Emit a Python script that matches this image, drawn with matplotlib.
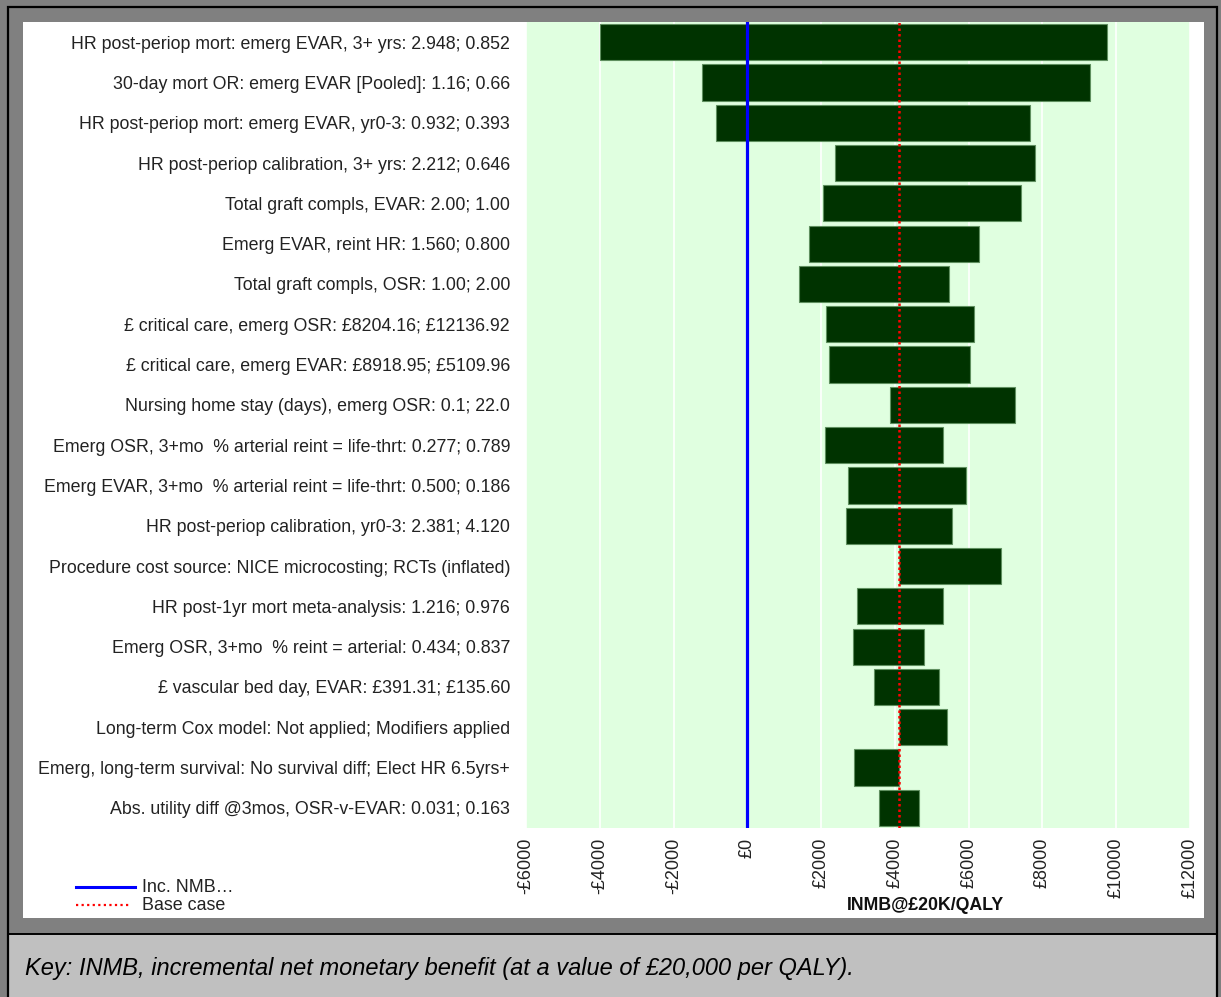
import numpy as np
import matplotlib.pyplot as plt
from matplotlib.patches import Rectangle
from matplotlib.lines import Line2D

plt.rcParams['font.family'] = ['Liberation Sans', 'DejaVu Sans']

# tornado data (INMB at £20K/QALY), top row first
labels = [
    "HR post-periop mort: emerg EVAR, 3+ yrs: 2.948; 0.852",
    "30-day mort OR: emerg EVAR [Pooled]: 1.16; 0.66",
    "HR post-periop mort: emerg EVAR, yr0-3: 0.932; 0.393",
    "HR post-periop calibration, 3+ yrs: 2.212; 0.646",
    "Total graft compls, EVAR: 2.00; 1.00",
    "Emerg EVAR, reint HR: 1.560; 0.800",
    "Total graft compls, OSR: 1.00; 2.00",
    "£ critical care, emerg OSR: £8204.16; £12136.92",
    "£ critical care, emerg EVAR: £8918.95; £5109.96",
    "Nursing home stay (days), emerg OSR: 0.1; 22.0",
    "Emerg OSR, 3+mo  % arterial reint = life-thrt: 0.277; 0.789",
    "Emerg EVAR, 3+mo  % arterial reint = life-thrt: 0.500; 0.186",
    "HR post-periop calibration, yr0-3: 2.381; 4.120",
    "Procedure cost source: NICE microcosting; RCTs (inflated)",
    "HR post-1yr mort meta-analysis: 1.216; 0.976",
    "Emerg OSR, 3+mo  % reint = arterial: 0.434; 0.837",
    "£ vascular bed day, EVAR: £391.31; £135.60",
    "Long-term Cox model: Not applied; Modifiers applied",
    "Emerg, long-term survival: No survival diff; Elect HR 6.5yrs+",
    "Abs. utility diff @3mos, OSR-v-EVAR: 0.031; 0.163",
]
base_case = 4120
low = [-3985, -1235, -860, 2365, 2040, 1660, 1390, 2130, 2220, 3865,
       2095, 2720, 2665, 4120, 2980, 2870, 3440, 4120, 2900, 3575]
high = [9745, 9295, 7660, 7805, 7415, 6280, 5480, 6135, 6045, 7245,
        5305, 5925, 5535, 6885, 5310, 4795, 5205, 5420, 4120, 4660]
xticks = [-6000, -4000, -2000, 0, 2000, 4000, 6000, 8000, 10000, 12000]
xticklabels = ["-£6000", "-£4000", "-£2000", "£0", "£2000", "£4000",
               "£6000", "£8000", "£10000", "£12000"]

W, H = 1221, 997


def fx(x):
    return x / W


def fy(y):
    return 1 - y / H


fig = plt.figure(figsize=(W / 100, H / 100), dpi=100)
fig.patch.set_facecolor('#808080')

# frame: white chart panel, grey key box, black outline
fig.add_artist(Rectangle((fx(23), fy(918)), (1204 - 23) / W, (918 - 22) / H,
                         transform=fig.transFigure, facecolor='white',
                         edgecolor='none', zorder=-10))
fig.add_artist(Rectangle((fx(9), fy(1000)), (1217 - 9) / W, (1000 - 934) / H,
                         transform=fig.transFigure, facecolor='#C0C0C0',
                         edgecolor='none', zorder=-10))
fig.add_artist(Rectangle((fx(8), fy(1005)), (1217 - 8) / W, (1005 - 7) / H,
                         transform=fig.transFigure, facecolor='none',
                         edgecolor='black', linewidth=1.6, zorder=-9))
fig.add_artist(Line2D([fx(8), fx(1217)], [fy(934), fy(934)],
                      transform=fig.transFigure, color='black',
                      linewidth=1.4, zorder=-9))

ax = fig.add_axes([fx(526), fy(828), (1190 - 526) / W, (828 - 22) / H])
ax.set_facecolor('#E0FFE0')

y = np.arange(len(labels))
widths = np.array(high) - np.array(low)
ax.barh(y, widths, left=low, height=0.9, color='#003300',
        edgecolor='#5f8f5f', linewidth=0.8, zorder=2)

ax.axvline(0, color='#0000FF', linewidth=2.3, zorder=3)
ax.axvline(base_case, color='#FF0000', linestyle=(0, (1, 1.2)),
           linewidth=1.8, zorder=4)

ax.set_xlim(-6000, 12000)
ax.set_ylim(len(labels) - 0.5, -0.5)
ax.set_xticks(xticks)
ax.set_xticklabels(xticklabels, rotation=90, va='top', ha='center')
ax.set_yticks(y)
ax.set_yticklabels(labels)
ax.tick_params(axis='y', length=0, pad=11.5, labelsize=12.8, labelcolor='#222222')
ax.tick_params(axis='x', length=0, pad=7, labelsize=13, labelcolor='#222222')
ax.grid(axis='x', color='white', linewidth=1.2, zorder=1)
ax.set_axisbelow(True)
for s in ax.spines.values():
    s.set_visible(False)

fig.text(fx(925), fy(905), "INMB@£20K/QALY", ha='center', va='center',
         fontsize=12.8, fontweight='bold', color='#111111')

# legend
fig.add_artist(Line2D([fx(76), fx(135)], [fy(887), fy(887)],
                      transform=fig.transFigure, color='#0000FF', linewidth=2.2))
fig.add_artist(Line2D([fx(76), fx(131)], [fy(905), fy(905)],
                      transform=fig.transFigure, color='#FF0000',
                      linestyle=(0, (1, 1.5)), linewidth=1.6))
fig.text(fx(142), fy(887), "Inc. NMB…", ha='left', va='center',
         fontsize=12.9, color='#222222')
fig.text(fx(142), fy(905), "Base case", ha='left', va='center',
         fontsize=12.9, color='#222222')

fig.text(fx(25), fy(968),
         "Key: INMB, incremental net monetary benefit (at a value of £20,000 per QALY).",
         ha='left', va='center', fontsize=17, style='italic', color='black')

fig.savefig('out.png', dpi=100, facecolor=fig.get_facecolor())
